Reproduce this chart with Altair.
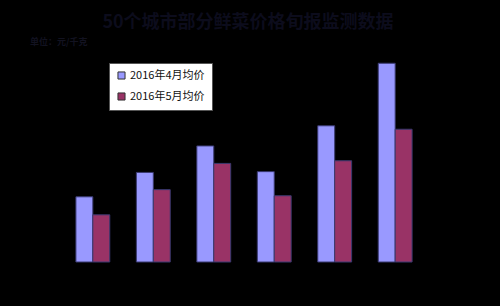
import altair as alt
import pandas as pd

categories = ["大白菜", "土豆", "黄瓜", "白萝卜", "西红柿", "青椒"]
series = ["2016年4月均价", "2016年5月均价"]
april = [2.46, 3.38, 4.38, 3.41, 5.14, 7.50]
may = [1.78, 2.73, 3.72, 2.50, 3.82, 5.01]
colors = ["#9999FF", "#993366"]

rows = []
for c, a, m in zip(categories, april, may):
    rows.append({"品种": c, "系列": series[0], "价格": a})
    rows.append({"品种": c, "系列": series[1], "价格": m})
df = pd.DataFrame(rows)

bars = alt.Chart(df).mark_bar(stroke="#3a3a70", strokeWidth=1).encode(
    x=alt.X("品种:N", sort=categories, axis=None,
            scale=alt.Scale(paddingInner=0.44, paddingOuter=0.23)),
    xOffset=alt.XOffset("系列:N", sort=series),
    y=alt.Y("价格:Q", axis=None, scale=alt.Scale(domain=[0, 8])),
    color=alt.Color("系列:N", sort=series,
                    scale=alt.Scale(domain=series, range=colors),
                    legend=alt.Legend(
                        title=None, orient="none", legendX=47, legendY=13,
                        fillColor="white", strokeColor="#555555",
                        padding=7, rowPadding=8,
                        symbolType="square", symbolSize=50,
                        symbolStrokeColor="#333333", symbolStrokeWidth=1,
                        labelFont="Noto Sans CJK SC", labelFontSize=11,
                        labelColor="#111111", labelOffset=3,
                    )),
)

title_df = pd.DataFrame({"t": ["50个城市部分鲜菜价格旬报监测数据"]})
title = alt.Chart(title_df).mark_text(
    font="Noto Sans CJK SC", fontSize=18, fontWeight="bold",
    color="#0c0c1c", align="center", baseline="middle",
).encode(text="t:N", x=alt.value(186), y=alt.value(-27))

sub_df = pd.DataFrame({"t": ["单位：元/千克"]})
sub = alt.Chart(sub_df).mark_text(
    font="Noto Sans CJK SC", fontSize=9, fontWeight="bold",
    color="#121220", align="left", baseline="middle",
).encode(text="t:N", x=alt.value(-32), y=alt.value(-8))

chart = alt.layer(bars, title, sub).properties(
    width=364, height=212,
    background="black",
    autosize=alt.AutoSizeParams(type="none"),
    padding={"left": 62, "top": 50, "right": 74, "bottom": 44},
).configure_view(stroke=None)

chart.save("out.html", embed_options={"renderer": "svg", "actions": False})
